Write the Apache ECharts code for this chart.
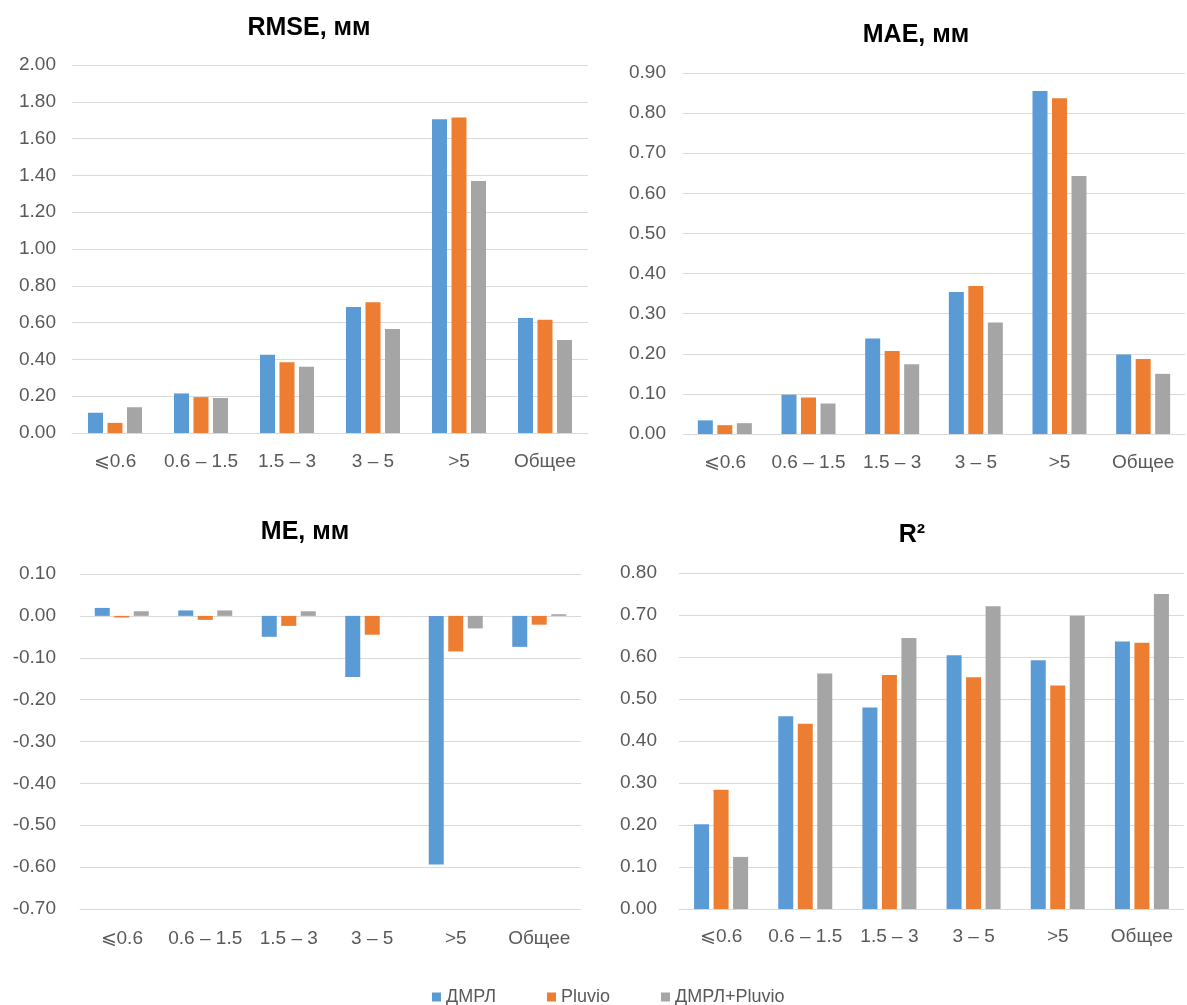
<!DOCTYPE html>
<html>
<head>
<meta charset="utf-8">
<script src="https://cdn.jsdelivr.net/npm/echarts@6/dist/echarts.min.js"></script>
<style>
html,body{margin:0;padding:0;background:#fff;}
#chart{width:1187px;height:1005px;}
</style>
</head>
<body>
<div id="chart"></div>
<script>
// ---- data ----
const categories = ['⩽0.6', '0.6 – 1.5', '1.5 – 3', '3 – 5', '>5', 'Общее'];
const seriesNames = ['ДМРЛ', 'Pluvio', 'ДМРЛ+Pluvio'];
const chartTitles = ['RMSE, мм', 'MAE, мм', 'ME, мм', 'R²'];

const rmseDmrl   = [0.11, 0.215, 0.425, 0.685, 1.705, 0.625];
const rmsePluvio = [0.055, 0.195, 0.385, 0.71, 1.715, 0.615];
const rmseBoth   = [0.14, 0.19, 0.36, 0.565, 1.37, 0.505];

const maeDmrl   = [0.034, 0.098, 0.238, 0.354, 0.855, 0.198];
const maePluvio = [0.022, 0.091, 0.207, 0.369, 0.837, 0.187];
const maeBoth   = [0.027, 0.076, 0.174, 0.278, 0.643, 0.150];

const meDmrl   = [0.019, 0.013, -0.050, -0.146, -0.594, -0.074];
const mePluvio = [-0.004, -0.0095, -0.024, -0.045, -0.085, -0.021];
const meBoth   = [0.011, 0.013, 0.011, 0, -0.030, 0.004];

const r2Dmrl   = [0.202, 0.459, 0.480, 0.604, 0.592, 0.637];
const r2Pluvio = [0.284, 0.441, 0.557, 0.552, 0.532, 0.634];
const r2Both   = [0.124, 0.561, 0.645, 0.721, 0.698, 0.750];

// y-axis ranges [min, max, interval]
const rmseRange = [0, 2.0, 0.2];
const maeRange  = [0, 0.9, 0.1];
const meRange   = [-0.7, 0.1, 0.1];
const r2Range   = [0, 0.8, 0.1];

// ---- styling ----
const colors = ['#5B9BD5', '#ED7D31', '#A5A5A5'];
const font = '"Liberation Sans", Arial, sans-serif';
const labelColor = '#595959';
const gridColor = '#D9D9D9';

const grids = [
  {left: 72,  top: 65,  width: 516, height: 368},
  {left: 683, top: 73,  width: 502, height: 361},
  {left: 80,  top: 574, width: 501, height: 335},
  {left: 679, top: 573, width: 505, height: 336}
];
const titlePos = [
  {x: 304, y: 11},
  {x: 911, y: 18},
  {x: 300, y: 515},
  {x: 907, y: 518}
];
const ranges = [rmseRange, maeRange, meRange, r2Range];
const data = [
  [rmseDmrl, rmsePluvio, rmseBoth],
  [maeDmrl, maePluvio, maeBoth],
  [meDmrl, mePluvio, meBoth],
  [r2Dmrl, r2Pluvio, r2Both]
];
const yMargins = [16, 17, 24, 22];
const xMargins = [19, 19, 20, 18];

const option = {
  animation: false,
  backgroundColor: '#fff',
  color: colors,
  title: chartTitles.map((t, i) => ({
    text: t,
    left: titlePos[i].x,
    top: titlePos[i].y,
    textAlign: 'center',
    textStyle: {fontFamily: font, fontSize: 25, fontWeight: 'bold', color: '#000'}
  })),
  legend: {
    data: seriesNames,
    left: 427,
    top: 983,
    itemWidth: 9,
    itemHeight: 9,
    itemGap: 51,
    icon: 'rect',
    textStyle: {fontFamily: font, fontSize: 18, color: labelColor}
  },
  grid: grids,
  xAxis: grids.map((g, i) => ({
    type: 'category',
    gridIndex: i,
    data: categories,
    axisTick: {show: false},
    axisLine: {onZero: false, lineStyle: {color: gridColor, width: 1}},
    axisLabel: {fontFamily: font, fontSize: 19, color: labelColor, margin: xMargins[i], interval: 0}
  })),
  yAxis: grids.map((g, i) => ({
    type: 'value',
    gridIndex: i,
    min: ranges[i][0],
    max: ranges[i][1],
    interval: ranges[i][2],
    axisLine: {show: false},
    axisTick: {show: false},
    splitLine: {lineStyle: {color: gridColor, width: 1}},
    axisLabel: {fontFamily: font, fontSize: 19, color: labelColor, margin: yMargins[i],
      formatter: v => v.toFixed(2)}
  })),
  series: []
};

for (let c = 0; c < 4; c++) {
  for (let s = 0; s < 3; s++) {
    option.series.push({
      type: 'bar',
      name: seriesNames[s],
      xAxisIndex: c,
      yAxisIndex: c,
      data: data[c][s],
      barWidth: 15,
      barGap: '30%',
      itemStyle: {color: colors[s]}
    });
  }
}

const chart = echarts.init(document.getElementById('chart'), null, {renderer: 'canvas'});
chart.setOption(option);
</script>
</body>
</html>
